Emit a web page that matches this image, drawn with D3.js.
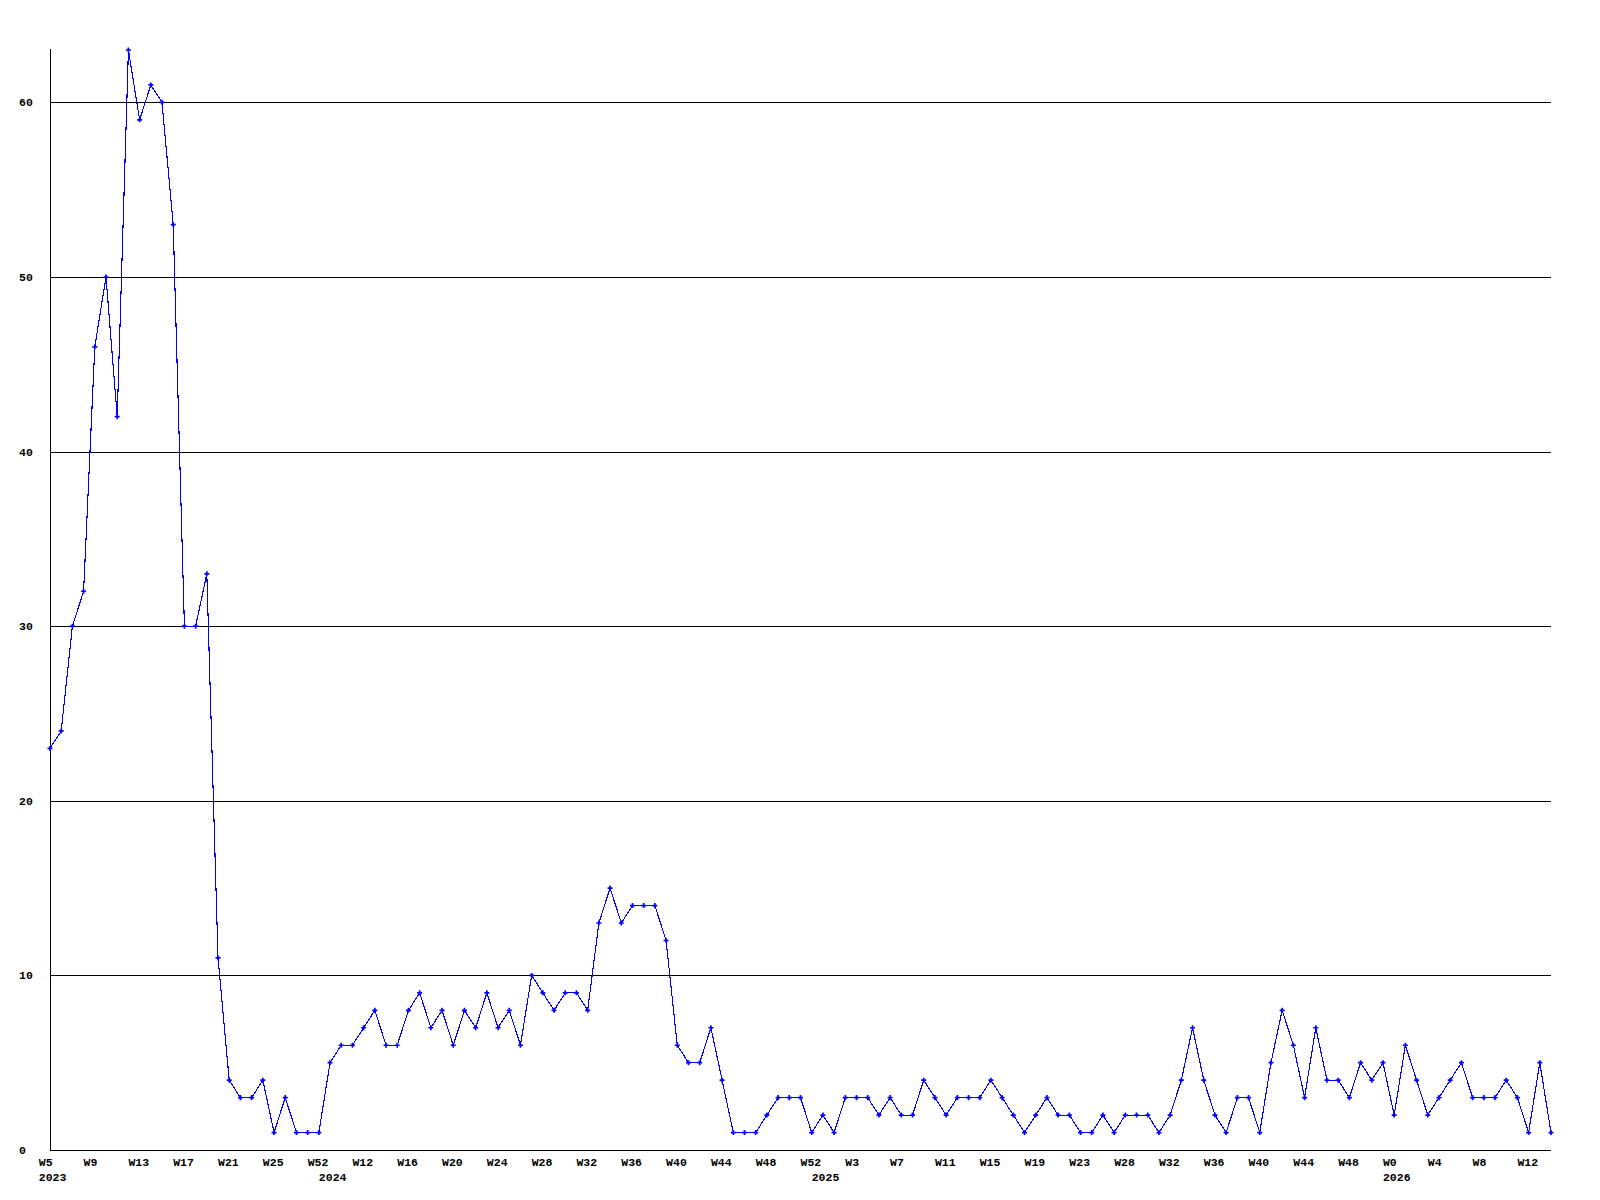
<!DOCTYPE html>
<html>
<head>
<meta charset="utf-8">
<script src="https://cdn.jsdelivr.net/npm/d3@7"></script>
<style>
  html, body { margin: 0; padding: 0; background: #fff; }
  svg text { font-family: "Liberation Mono", "DejaVu Sans Mono", monospace; font-weight: bold; font-size: 11.5px; fill: #000; }
</style>
</head>
<body>
<div id="chart"></div>
<script>
"use strict";

// weekly counts, 2023 W5 .. 2026 W14
const values = [
  23, 24, 30, 32, 46, 50, 42, 63, 59, 61, 60, 53, 30, 30, 33,
  11, 4, 3, 3, 4, 1, 3, 1, 1, 1, 5, 6, 6, 7, 8, 6, 6, 8, 9, 7, 8, 6, 8, 7, 9, 7, 8, 6, 10,
  9, 8, 9, 9, 8, 13, 15, 13, 14, 14, 14, 12, 6, 5, 5, 7, 4, 1, 1, 1,
  2, 3, 3, 3, 1, 2, 1, 3, 3, 3, 2, 3, 2, 2, 4, 3, 2, 3, 3, 3, 4, 3, 2, 1, 2, 3, 2, 2, 1, 1,
  2, 1, 2, 2, 2, 1, 2, 4, 7, 4, 2, 1, 3, 3, 1,
  5, 8, 6, 3, 7, 4, 4, 3, 5, 4, 5, 2, 6, 4, 2, 3, 4, 5, 3, 3, 3, 4, 3, 1, 5, 1
];

// one label every 4th point
const weekLabels = [
  "W5", "W9", "W13", "W17", "W21", "W25", "W52", "W12", "W16", "W20", "W24", "W28",
  "W32", "W36", "W40", "W44", "W48", "W52", "W3", "W7", "W11", "W15", "W19", "W23",
  "W28", "W32", "W36", "W40", "W44", "W48", "W0", "W4", "W8", "W12"
];
const labelEvery = 4;

// year name and the index of its first point
const years = ["2023", "2024", "2025", "2026"];
const yearStart = [0, 25, 69, 120];

const yTicks = [0, 10, 20, 30, 40, 50, 60];

const width = 1600, height = 1200;
const plotLeft = 50, plotRight = 1551, plotTop = 50, plotBottom = 1150;

const svg = d3.select("#chart").append("svg")
    .attr("width", width)
    .attr("height", height);

const x = d3.scaleLinear()
    .domain([0, values.length - 1])
    .range([plotLeft, plotRight]);

const y = d3.scaleLinear()
    .domain([0, d3.max(values)])
    .range([plotBottom, plotTop]);

const step = x(1) - x(0);

// grid
svg.append("g")
  .selectAll("line")
  .data(yTicks.filter(d => d > 0))
  .join("line")
    .attr("x1", plotLeft)
    .attr("x2", plotRight)
    .attr("y1", d => Math.round(y(d)) + 0.5)
    .attr("y2", d => Math.round(y(d)) + 0.5)
    .attr("stroke", "#000")
    .attr("shape-rendering", "crispEdges");

// axes
svg.append("line")
    .attr("x1", plotLeft + 0.5).attr("x2", plotLeft + 0.5)
    .attr("y1", plotTop - 1).attr("y2", plotBottom)
    .attr("stroke", "#000")
    .attr("shape-rendering", "crispEdges");
svg.append("line")
    .attr("x1", plotLeft).attr("x2", plotRight)
    .attr("y1", plotBottom + 0.5).attr("y2", plotBottom + 0.5)
    .attr("stroke", "#000")
    .attr("shape-rendering", "crispEdges");

// y labels
svg.append("g")
  .selectAll("text")
  .data(yTicks)
  .join("text")
    .attr("x", 19)
    .attr("y", d => y(d) + 4)
    .text(d => d);

// x labels
svg.append("g")
  .selectAll("text")
  .data(weekLabels)
  .join("text")
    .attr("x", (d, i) => x(i * labelEvery) - step)
    .attr("y", 1166)
    .text(d => d);

svg.append("g")
  .selectAll("text")
  .data(years)
  .join("text")
    .attr("x", (d, i) => x(yearStart[i]) - step)
    .attr("y", 1181)
    .text(d => d);

// series
const line = d3.line()
    .x((d, i) => x(i))
    .y(d => y(d));

svg.append("path")
    .datum(values)
    .attr("fill", "none")
    .attr("stroke", "#0000ff")
    .attr("stroke-width", 1.1)
    .attr("shape-rendering", "crispEdges")
    .attr("d", line);

svg.append("g")
  .selectAll("path")
  .data(values)
  .join("path")
    .attr("transform", (d, i) => `translate(${x(i)},${y(d)})`)
    .attr("d", d3.symbol(d3.symbolCross, 14))
    .attr("fill", "#0000ff");
</script>
</body>
</html>
